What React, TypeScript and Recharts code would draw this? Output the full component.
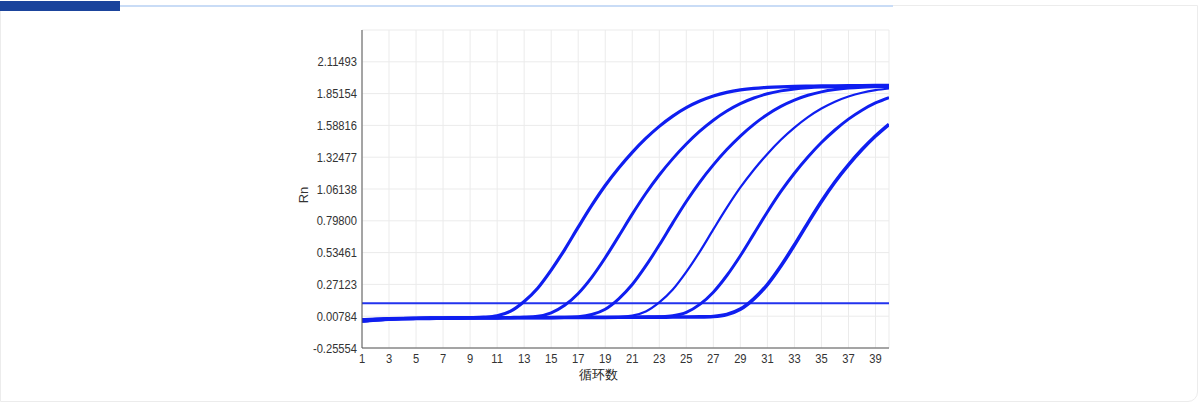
import { CartesianGrid, Line, LineChart, ReferenceLine, XAxis, YAxis } from 'recharts';

const cycles = [
  1, 2, 3, 4, 5, 6, 7, 8, 9, 10, 11, 12, 13, 14, 15, 16, 17, 18, 19, 20,
  21, 22, 23, 24, 25, 26, 27, 28, 29, 30, 31, 32, 33, 34, 35, 36, 37, 38, 39, 40,
];

const curveA = [
  -0.032, -0.022, -0.016, -0.012, -0.01, -0.008, -0.007, -0.006, -0.004, 0.0,
  0.012, 0.05, 0.13, 0.24, 0.39, 0.56, 0.745, 0.925, 1.09, 1.235,
  1.365, 1.48, 1.58, 1.665, 1.735, 1.79, 1.832, 1.862, 1.882, 1.895,
  1.903, 1.908, 1.911, 1.913, 1.915, 1.916, 1.917, 1.918, 1.919, 1.92,
];
const curveB = [
  -0.025, -0.018, -0.014, -0.011, -0.009, -0.008, -0.007, -0.006, -0.006, -0.005,
  -0.004, -0.002, 0.001, 0.008, 0.036, 0.098, 0.196, 0.33, 0.492, 0.671,
  0.853, 1.024, 1.177, 1.313, 1.434, 1.54, 1.631, 1.707, 1.768, 1.815,
  1.85, 1.874, 1.89, 1.9, 1.906, 1.909, 1.911, 1.913, 1.914, 1.916,
];
const curveC = [
  -0.02, -0.015, -0.012, -0.01, -0.009, -0.008, -0.007, -0.006, -0.005, -0.005,
  -0.004, -0.004, -0.003, -0.002, -0.002, -0.001, 0.004, 0.022, 0.066, 0.152,
  0.27, 0.424, 0.597, 0.781, 0.958, 1.119, 1.261, 1.388, 1.5, 1.597,
  1.679, 1.746, 1.798, 1.838, 1.866, 1.885, 1.897, 1.904, 1.908, 1.911,
];
const curveD = [
  -0.028, -0.02, -0.015, -0.012, -0.01, -0.009, -0.008, -0.007, -0.006, -0.006,
  -0.005, -0.005, -0.004, -0.004, -0.003, -0.003, -0.002, -0.002, -0.001, 0.001,
  0.012, 0.047, 0.122, 0.229, 0.375, 0.543, 0.727, 0.907, 1.074, 1.221,
  1.352, 1.469, 1.57, 1.657, 1.728, 1.785, 1.828, 1.859, 1.88, 1.894,
];
const curveE = [
  -0.035, -0.025, -0.018, -0.014, -0.012, -0.01, -0.009, -0.008, -0.007, -0.006,
  -0.006, -0.005, -0.005, -0.004, -0.004, -0.003, -0.003, -0.002, -0.002, -0.001,
  -0.001, 0.0, 0.003, 0.012, 0.04, 0.106, 0.207, 0.345, 0.509, 0.69,
  0.871, 1.041, 1.192, 1.326, 1.446, 1.55, 1.64, 1.714, 1.774, 1.819,
];
const curveF = [
  -0.03, -0.022, -0.016, -0.013, -0.011, -0.01, -0.009, -0.008, -0.007, -0.006,
  -0.006, -0.005, -0.005, -0.004, -0.004, -0.003, -0.003, -0.002, -0.002, -0.001,
  -0.001, 0.0, 0.0, 0.001, 0.001, 0.002, 0.006, 0.022, 0.066, 0.152,
  0.27, 0.424, 0.597, 0.781, 0.958, 1.119, 1.261, 1.388, 1.5, 1.597,
];

const threshold = 0.115;

const yTicks = [-0.25554, 0.00784, 0.27123, 0.53461, 0.798, 1.06138, 1.32477, 1.58816, 1.85154, 2.11493];
const yMax = 2.37831;
const xTicks = [1, 3, 5, 7, 9, 11, 13, 15, 17, 19, 21, 23, 25, 27, 29, 31, 33, 35, 37, 39];

const series = [
  { key: 'a', values: curveA, width: 3.2 },
  { key: 'b', values: curveB, width: 3 },
  { key: 'c', values: curveC, width: 3 },
  { key: 'd', values: curveD, width: 2.2 },
  { key: 'e', values: curveE, width: 3 },
  { key: 'f', values: curveF, width: 3.6 },
];

const data = cycles.map((cycle, i) => {
  const row: Record<string, number> = { cycle };
  series.forEach((s) => {
    row[s.key] = s.values[i];
  });
  return row;
});

const CURVE = '#0f1ef0';
const FONT = '"Liberation Sans", Arial, sans-serif';
const TEXT = '#333';

// the original uses a narrow sans, so squeeze Liberation Sans a bit
function YTick({ x, y, payload }: any) {
  return (
    <g transform={`translate(${x},${y})`}>
      <text transform="scale(0.86,1)" textAnchor="end" dy="0.36em" fontSize={13} fill={TEXT} fontFamily={FONT}>
        {Number(payload.value).toFixed(5)}
      </text>
    </g>
  );
}

function XTick({ x, y, payload }: any) {
  return (
    <g transform={`translate(${x},${y})`}>
      <text transform="scale(0.86,1)" textAnchor="middle" dy="0.75em" fontSize={13} fill={TEXT} fontFamily={FONT}>
        {payload.value}
      </text>
    </g>
  );
}

function RnLabel(props: any) {
  const vb = props.viewBox;
  const x = vb.x + 6;
  const y = vb.y + vb.height / 2 + 6;
  return (
    <text x={x} y={y} transform={`rotate(-90 ${x} ${y})`} textAnchor="middle" fontSize={13} fill={TEXT} fontFamily={FONT}>
      Rn
    </text>
  );
}

export default function App() {
  return (
    <div style={{ position: 'fixed', left: 0, top: 0, width: 1202, height: 404, background: '#fff', overflow: 'hidden' }}>
      <div
        style={{
          position: 'absolute',
          left: 0,
          top: 5,
          width: 1196,
          height: 395,
          border: '1px solid #ececec',
          borderRadius: '0 0 10px 0',
        }}
      />
      <div style={{ position: 'absolute', left: 120, top: 5, width: 773, height: 2, background: '#c9dcf6' }} />
      <div style={{ position: 'absolute', left: 0, top: 1, width: 120, height: 10, background: '#1b449c' }} />
      <div style={{ position: 'absolute', left: 0, top: 0 }}>
        <LineChart width={1202} height={404} data={data} margin={{ top: 30, right: 313, bottom: 16, left: 302 }}>
          <CartesianGrid stroke="#ebebeb" strokeWidth={1} />
          <XAxis
            dataKey="cycle"
            type="number"
            domain={[1, 40]}
            ticks={xTicks}
            allowDataOverflow
            height={40}
            tickLine={false}
            tickSize={0}
            tickMargin={5}
            interval={0}
            axisLine={{ stroke: '#555' }}
            tick={<XTick />}
            label={{ value: '循环数', position: 'insideBottom', offset: 9, dx: -27, fontSize: 13, fill: '#222' }}
          />
          <XAxis xAxisId="top" orientation="top" type="number" dataKey="cycle" domain={[1, 40]} height={0} tick={false} tickLine={false} axisLine={{ stroke: '#222' }} />
          <YAxis
            type="number"
            domain={[-0.25554, yMax]}
            ticks={yTicks}
            allowDataOverflow
            width={60}
            tickLine={false}
            tickSize={0}
            tickMargin={5}
            interval={0}
            axisLine={{ stroke: '#555' }}
            tick={<YTick />}
            label={{ content: RnLabel }}
          />
          <YAxis yAxisId="right" orientation="right" domain={[-0.25554, yMax]} width={0} tick={false} tickLine={false} axisLine={{ stroke: '#666', strokeWidth: 2 }} />
          <ReferenceLine y={threshold} stroke="#2233ee" strokeWidth={2} ifOverflow="extendDomain" />
          {series.map((s) => (
            <Line
              key={s.key}
              dataKey={s.key}
              type="monotone"
              stroke={CURVE}
              strokeWidth={s.width}
              dot={false}
              activeDot={false}
              isAnimationActive={false}
            />
          ))}
        </LineChart>
      </div>
    </div>
  );
}
